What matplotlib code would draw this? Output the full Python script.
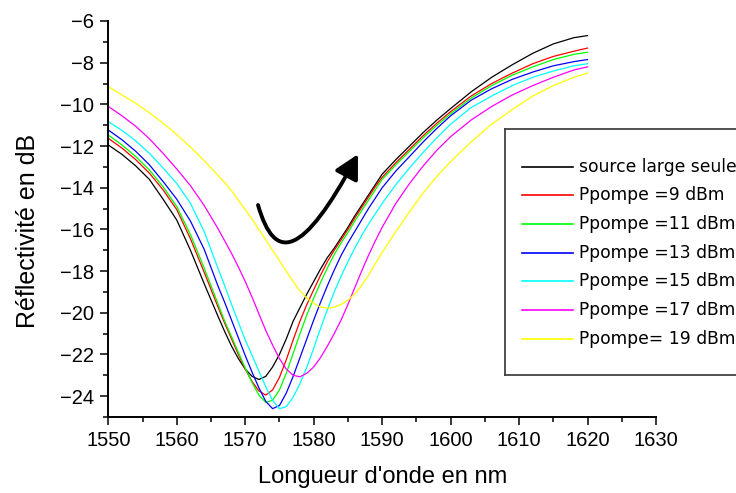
# -*- coding: utf-8 -*-
import matplotlib
matplotlib.use("Agg")
import matplotlib.pyplot as plt
from matplotlib.ticker import MultipleLocator
from matplotlib.patches import FancyArrowPatch
from matplotlib.path import Path

# --- Données (longueur d'onde en nm, réflectivité en dB) ---
lambda_nm = [1550, 1552, 1554, 1556, 1558, 1560, 1562, 1564, 1566,
             1567, 1568, 1569, 1570, 1571, 1572, 1573, 1574, 1575, 1576, 1577, 1578,
             1579, 1580, 1581, 1582, 1583, 1584, 1585, 1586, 1587, 1588, 1589, 1590,
             1592, 1594, 1596, 1598, 1600, 1603, 1606, 1609, 1612, 1615, 1618, 1620]

r_source = [-11.95, -12.4, -12.95, -13.6, -14.55, -15.55, -17.0, -18.6, -20.15,
            -20.9, -21.6, -22.2, -22.7, -23.05, -23.2, -23.05, -22.6, -22.0, -21.25, -20.4, -19.75,
            -19.1, -18.5, -17.9, -17.35, -16.9, -16.4, -15.9, -15.35, -14.85, -14.35, -13.85, -13.35,
            -12.65, -12.0, -11.35, -10.75, -10.2, -9.4, -8.7, -8.1, -7.55, -7.1, -6.8, -6.7]

r_p9 = [-11.63, -12.1, -12.65, -13.3, -14.1, -15.05, -16.45, -18.05, -19.7,
        -20.5, -21.25, -22.0, -22.7, -23.3, -23.75, -23.95, -23.7, -23.1, -22.25, -21.3, -20.4,
        -19.6, -18.9, -18.2, -17.55, -17.0, -16.5, -16.0, -15.45, -14.95, -14.45, -13.95, -13.5,
        -12.8, -12.15, -11.5, -10.9, -10.35, -9.6, -9.0, -8.5, -8.05, -7.7, -7.45, -7.3]

r_p11 = [-11.47, -11.95, -12.5, -13.15, -13.95, -14.9, -16.25, -17.85, -19.55,
         -20.4, -21.15, -21.9, -22.65, -23.35, -23.95, -24.3, -24.2, -23.7, -22.9, -21.95, -21.0,
         -20.1, -19.3, -18.55, -17.85, -17.2, -16.65, -16.15, -15.6, -15.1, -14.6, -14.1, -13.6,
         -12.9, -12.25, -11.6, -11.0, -10.45, -9.7, -9.1, -8.6, -8.2, -7.85, -7.6, -7.5]

r_p13 = [-11.23, -11.7, -12.25, -12.9, -13.7, -14.55, -15.6, -16.95, -18.7,
         -19.5, -20.35, -21.2, -22.05, -22.85, -23.6, -24.25, -24.6, -24.45, -23.85, -23.05, -22.15,
         -21.25, -20.35, -19.5, -18.7, -17.95, -17.25, -16.65, -16.1, -15.55, -15.0, -14.5, -14.0,
         -13.2, -12.5, -11.8, -11.15, -10.55, -9.8, -9.25, -8.8, -8.45, -8.15, -7.95, -7.85]

r_p15 = [-10.83, -11.25, -11.75, -12.35, -13.05, -13.8, -14.75, -16.1, -17.85,
         -18.7, -19.6, -20.45, -21.3, -22.05, -22.8, -23.55, -24.2, -24.6, -24.5, -24.05, -23.4,
         -22.6, -21.7, -20.75, -19.85, -19.0, -18.25, -17.55, -16.9, -16.3, -15.75, -15.25, -14.75,
         -13.85, -13.05, -12.3, -11.6, -10.95, -10.15, -9.6, -9.1, -8.7, -8.4, -8.15, -8.05]

r_p17 = [-10.1, -10.55, -11.05, -11.65, -12.35, -13.1, -13.9, -14.85, -15.95,
         -16.55, -17.15, -17.8, -18.5, -19.25, -20.05, -20.85, -21.55, -22.2, -22.7, -23.0, -23.07,
         -22.9, -22.6, -22.15, -21.6, -21.0, -20.35, -19.6, -18.8, -18.0, -17.25, -16.55, -15.9,
         -14.75, -13.8, -12.95, -12.2, -11.55, -10.75, -10.1, -9.55, -9.1, -8.7, -8.35, -8.2]

r_p19 = [-9.15, -9.55, -9.95, -10.4, -10.9, -11.45, -12.05, -12.7, -13.4,
         -13.75, -14.15, -14.6, -15.05, -15.5, -16.0, -16.5, -17.0, -17.5, -18.0, -18.5, -18.95,
         -19.3, -19.55, -19.72, -19.78, -19.73, -19.6, -19.4, -19.1, -18.7, -18.2, -17.65, -17.1,
         -16.1, -15.15, -14.25, -13.45, -12.75, -11.8, -10.95, -10.25, -9.6, -9.1, -8.7, -8.5]

courbes = [r_source, r_p9, r_p11, r_p13, r_p15, r_p17, r_p19]
legendes = ["source large seule", "Ppompe =9 dBm", "Ppompe =11 dBm", "Ppompe =13 dBm",
            "Ppompe =15 dBm", "Ppompe =17 dBm", "Ppompe= 19 dBm"]
couleurs = ["#000000", "#ff0000", "#00ff00", "#0000ff", "#00ffff", "#ff00ff", "#ffff00"]

x_ticks = [1550, 1560, 1570, 1580, 1590, 1600, 1610, 1620, 1630]
y_ticks = [-24, -22, -20, -18, -16, -14, -12, -10, -8, -6]

# --- Figure ---
plt.rcParams["font.family"] = ["Liberation Sans", "DejaVu Sans"]
fig = plt.figure(figsize=(7.36, 4.93), dpi=100)
ax = fig.add_axes([108.3 / 736, 76 / 493, 547.7 / 736, 396 / 493])

for y, c in zip(courbes, couleurs):
    ax.plot(lambda_nm, y, color=c, lw=0.9)

ax.set_xlim(1550, 1630)
ax.set_ylim(-25, -6)
ax.set_xticks(x_ticks)
ax.set_yticks(y_ticks)
ax.xaxis.set_minor_locator(MultipleLocator(5))
ax.yaxis.set_minor_locator(MultipleLocator(1))
ax.spines["top"].set_visible(False)
ax.spines["right"].set_visible(False)
for s in ["left", "bottom"]:
    ax.spines[s].set_linewidth(1.4)
ax.tick_params(which="major", direction="out", length=5.5, width=1.1, labelsize=14.5, pad=4.5)
ax.tick_params(which="minor", direction="out", length=3.6, width=1.1)

ax.set_xlabel("Longueur d'onde en nm", fontsize=17)
ax.set_ylabel("Réflectivité en dB", fontsize=18)
ax.xaxis.set_label_coords(0.5, -0.124)
ax.yaxis.set_label_coords(-0.125, 0.47)

# --- Flèche courbe ---
verts = [(1571.87, -14.83), (1574.3, -17.6), (1578.3, -17.4), (1586.47, -12.39)]
chemin = Path(verts, [Path.MOVETO, Path.CURVE4, Path.CURVE4, Path.CURVE4])
fleche = FancyArrowPatch(path=chemin, arrowstyle="-|>,head_length=0.6,head_width=0.32",
                         mutation_scale=24, lw=2.8, color="black", transform=ax.transData)
ax.add_patch(fleche)

# --- Légende (cadre dessiné à la main, coupé à droite comme l'original) ---
lax = fig.add_axes([505 / 736, (493 - 375) / 493, 255 / 736, 245.7 / 493])
lax.set_xlim(505, 760)
lax.set_ylim(375, 129.3)
lax.set_xticks([])
lax.set_yticks([])
for s in lax.spines.values():
    s.set_linewidth(1.2)
    s.set_color("#333333")
rows = [166.7, 195.3, 224.0, 252.7, 281.3, 310.0, 338.7]
for yr, lab, c in zip(rows, legendes, couleurs):
    lax.plot([521.7, 573.3], [yr, yr], color=c, lw=1.2)
    lax.text(579.3, yr, lab, fontsize=12.3, va="center", ha="left", family="DejaVu Sans")

plt.savefig("out.png", dpi=100)
plt.close()
